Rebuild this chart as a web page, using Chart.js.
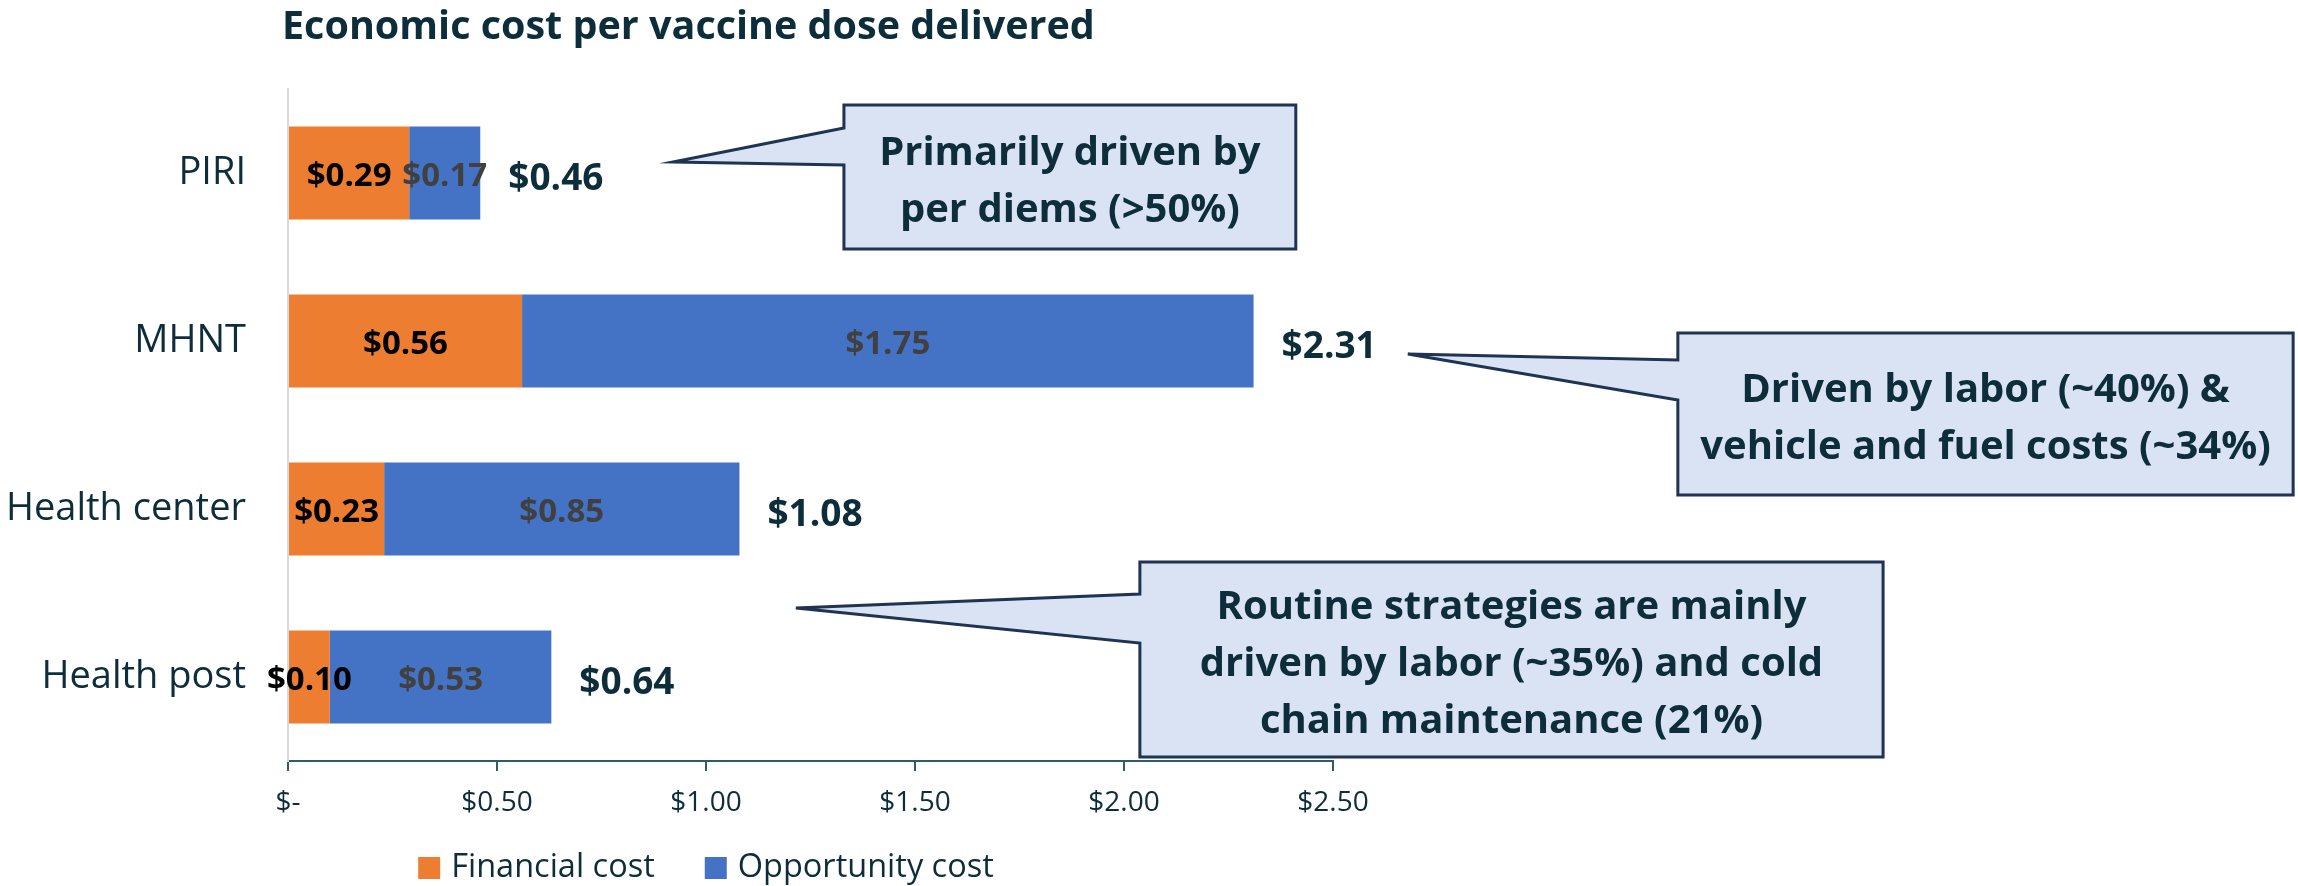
<!DOCTYPE html>
<html>
<head>
<meta charset="utf-8">
<script src="https://cdn.jsdelivr.net/npm/chart.js@4.4.1/dist/chart.umd.min.js"></script>
<style>
  html, body { margin: 0; padding: 0; background: #ffffff; }
  #wrap { width: 2298px; height: 886px; position: relative; }
</style>
</head>
<body>
<div id="wrap"><canvas id="c" width="2298" height="886"></canvas></div>
<script>
// ---- Data ----
const categories = ['PIRI', 'MHNT', 'Health center', 'Health post'];
const seriesNames = ['Financial cost', 'Opportunity cost'];
const financialCost = [0.29, 0.56, 0.23, 0.10];
const opportunityCost = [0.17, 1.75, 0.85, 0.53];
const totalCost = [0.46, 2.31, 1.08, 0.64];
const xTickLabels = ['$-', '$0.50', '$1.00', '$1.50', '$2.00', '$2.50'];
const chartTitle = 'Economic cost per vaccine dose delivered';

// Callout notes (anchored in data units: x = dollars, y = category index)
const calloutTexts = [
  ['Primarily driven by', 'per diems (>50%)'],
  ['Driven by labor (~40%) &', 'vehicle and fuel costs (~34%)'],
  ['Routine strategies are mainly', 'driven by labor (~35%) and cold', 'chain maintenance (21%)']
];
const calloutBoxes = [
  { x0: 1.330, x1: 2.411, y0: -0.405, y1: 0.452, tipX: 0.921, tipY: -0.065, b0: -0.268, b1: -0.048 },
  { x0: 3.325, x1: 4.797, y0: 0.952, y1: 1.917, tipX: 2.679, tipY: 1.077, b0: 1.113, b1: 1.351 },
  { x0: 2.038, x1: 3.816, y0: 2.315, y1: 3.476, tipX: 1.215, tipY: 2.589, b0: 2.506, b1: 2.798 }
];

// ---- Styles ----
const FONT = "'Open Sans', 'Noto Sans', sans-serif";
const TEXT = '#0d2d3a';
const ORANGE = '#ED7D31';
const BLUE = '#4472C4';
const AXIS = '#2f5c68';
const seriesColors = [ORANGE, BLUE];

Chart.defaults.font.family = FONT;
Chart.defaults.color = TEXT;

const fmt = v => '$' + v.toFixed(2);

const labelsPlugin = {
  id: 'barLabels',
  afterDatasetsDraw(chart) {
    const ctx = chart.ctx;
    ctx.save();
    ctx.textAlign = 'center';
    ctx.textBaseline = 'alphabetic';
    const segColors = ['#000000', '#404040'];
    chart.data.datasets.forEach((ds, di) => {
      const meta = chart.getDatasetMeta(di);
      ctx.font = 'bold 33px ' + FONT;
      ctx.fillStyle = segColors[di];
      meta.data.forEach((el, i) => {
        const p = el.getProps(['x', 'y', 'base'], true);
        const cx = (p.x + p.base) / 2;
        ctx.fillText(fmt(ds.data[i]), cx, p.y + 12.5);
      });
    });
    // totals
    const last = chart.getDatasetMeta(chart.data.datasets.length - 1);
    ctx.font = 'bold 37px ' + FONT;
    ctx.fillStyle = TEXT;
    ctx.textAlign = 'left';
    last.data.forEach((el, i) => {
      const p = el.getProps(['x', 'y'], true);
      ctx.fillText(fmt(totalCost[i]), p.x + 28, p.y + 17);
    });
    ctx.restore();
  }
};

const decorPlugin = {
  id: 'decor',
  afterDraw(chart) {
    const ctx = chart.ctx;
    const xs = chart.scales.x, ys = chart.scales.y;
    ctx.save();
    // title
    ctx.font = 'bold 39.5px ' + FONT;
    ctx.fillStyle = TEXT;
    ctx.textAlign = 'left';
    ctx.textBaseline = 'alphabetic';
    ctx.fillText(chartTitle, 282, 39);

    // legend (centred under the chart)
    ctx.font = '32.5px ' + FONT;
    ctx.textBaseline = 'middle';
    const box = 22, gapText = 11, gapItem = 50, legendY = 868, legendCenter = 706;
    const widths = seriesNames.map(n => ctx.measureText(n).width);
    const total = widths.reduce((a, w) => a + box + gapText + w, 0) + gapItem * (seriesNames.length - 1);
    let lx = legendCenter - total / 2;
    seriesNames.forEach((n, i) => {
      ctx.fillStyle = seriesColors[i];
      ctx.fillRect(lx, legendY - box / 2, box, box);
      ctx.fillStyle = TEXT;
      ctx.fillText(n, lx + box + gapText, legendY);
      lx += box + gapText + widths[i] + gapItem;
    });
    ctx.textBaseline = 'alphabetic';

    // callouts
    calloutBoxes.forEach((c, k) => {
      const L = xs.getPixelForValue(c.x0), R = xs.getPixelForValue(c.x1);
      const T = ys.getPixelForValue(c.y0), B = ys.getPixelForValue(c.y1);
      const tx = xs.getPixelForValue(c.tipX), ty = ys.getPixelForValue(c.tipY);
      const b0 = ys.getPixelForValue(c.b0), b1 = ys.getPixelForValue(c.b1);
      ctx.beginPath();
      ctx.moveTo(L, T);
      ctx.lineTo(R, T);
      ctx.lineTo(R, B);
      ctx.lineTo(L, B);
      ctx.lineTo(L, b1);
      ctx.lineTo(tx, ty);
      ctx.lineTo(L, b0);
      ctx.closePath();
      ctx.fillStyle = '#DAE3F3';
      ctx.fill();
      ctx.lineWidth = 3;
      ctx.lineJoin = 'miter';
      ctx.strokeStyle = '#1f3352';
      ctx.stroke();

      const lines = calloutTexts[k];
      ctx.font = 'bold 40px ' + FONT;
      ctx.fillStyle = TEXT;
      ctx.textAlign = 'center';
      const cx = (L + R) / 2, cy = (T + B) / 2 + 2.5;
      const lh = 57;
      lines.forEach((t, j) => {
        const yc = cy + (j - (lines.length - 1) / 2) * lh;
        ctx.fillText(t, cx, yc + 14);
      });
    });
    ctx.restore();
  }
};

new Chart(document.getElementById('c'), {
  type: 'bar',
  data: {
    labels: categories,
    datasets: [
      { label: seriesNames[0], data: financialCost, backgroundColor: ORANGE, borderWidth: 0,
        barPercentage: 0.555, categoryPercentage: 1 },
      { label: seriesNames[1], data: opportunityCost, backgroundColor: BLUE, borderWidth: 0,
        barPercentage: 0.555, categoryPercentage: 1 }
    ]
  },
  options: {
    indexAxis: 'y',
    responsive: false,
    animation: false,
    layout: { padding: { left: 0, right: 965, top: 89, bottom: 0 } },
    scales: {
      x: {
        type: 'linear',
        stacked: true,
        min: 0, max: 2.5,
        ticks: {
          stepSize: 0.5,
          padding: 15,
          color: TEXT,
          font: { size: 28 },
          maxRotation: 0,
          callback: (v, i) => xTickLabels[i]
        },
        grid: { drawOnChartArea: false, drawTicks: true, tickLength: 10, color: AXIS, lineWidth: 2 },
        border: { display: true, color: AXIS, width: 2 },
        afterFit: s => { s.height = 125; }
      },
      y: {
        stacked: true,
        ticks: { padding: 42, color: TEXT, font: { size: 38 } },
        grid: { display: false, drawTicks: false },
        border: { display: true, color: '#d9d9d9', width: 2 },
        afterFit: s => { s.width = 288; }
      }
    },
    plugins: {
      title: { display: false },
      tooltip: { enabled: false },
      legend: { display: false }
    }
  },
  plugins: [labelsPlugin, decorPlugin]
});
</script>
</body>
</html>
